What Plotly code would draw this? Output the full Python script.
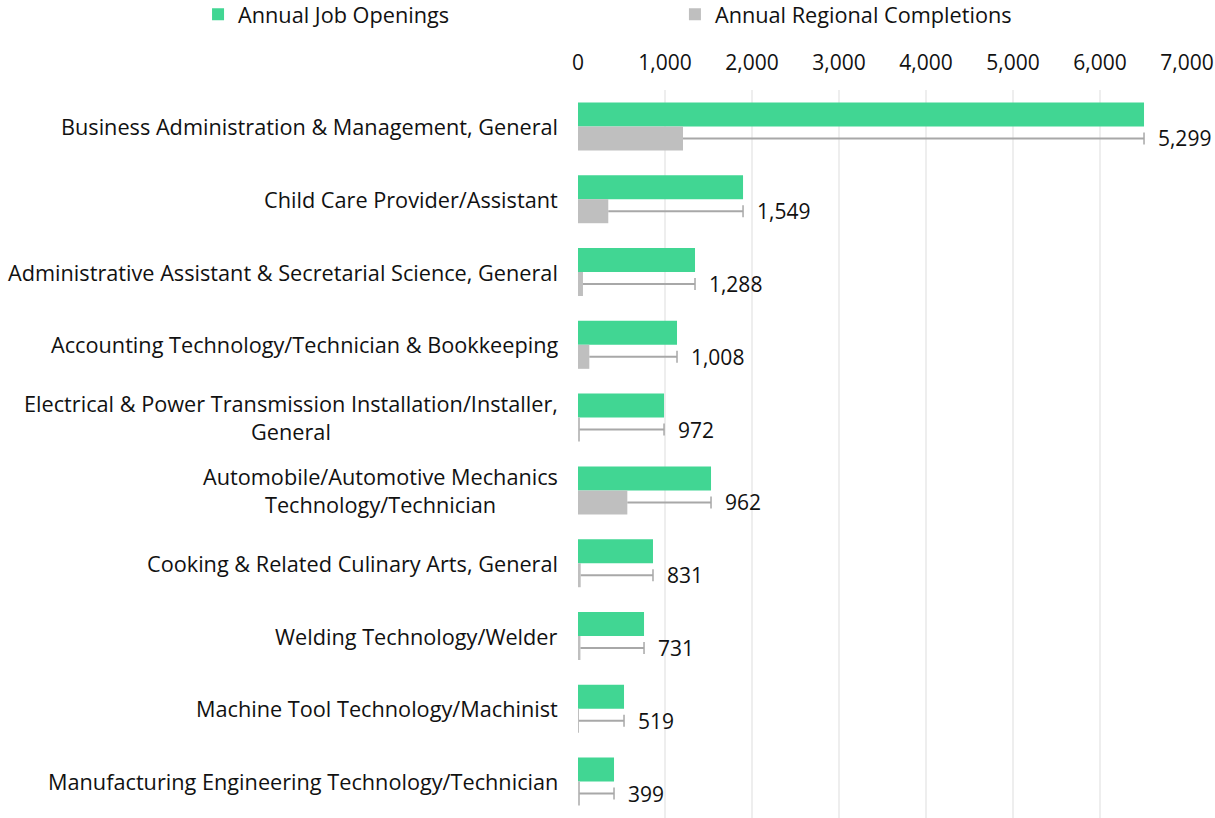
import plotly.graph_objects as go

# Programs ranked by the gap between annual job openings and regional completions
programs = [
    "Business Administration & Management, General",
    "Child Care Provider/Assistant",
    "Administrative Assistant & Secretarial Science, General",
    "Accounting Technology/Technician & Bookkeeping",
    "Electrical & Power Transmission Installation/Installer,<br>General",
    "Automobile/Automotive Mechanics<br>Technology/Technician",
    "Cooking & Related Culinary Arts, General",
    "Welding Technology/Welder",
    "Machine Tool Technology/Machinist",
    "Manufacturing Engineering Technology/Technician",
]
openings = [6506, 1897, 1345, 1138, 989, 1529, 862, 759, 529, 414]
completions = [1207, 348, 57, 130, 17, 567, 31, 28, 10, 15]
x_ticks = [0, 1000, 2000, 3000, 4000, 5000, 6000, 7000]

gap = [o - c for o, c in zip(openings, completions)]

GREEN = "#41D693"
GREY_BAR = "#BFBFBF"
GREY_LINE = "#A8A8A8"
INK = "#111111"
FONT = "Open Sans"
LABEL_SIZE = 21.7
NUM_SIZE = 21

fig = go.Figure()

fig.add_trace(go.Bar(
    name="Annual Job Openings",
    y=programs, x=openings, orientation="h",
    offsetgroup="openings",
    marker=dict(color=GREEN, line=dict(width=0)),
    legend="legend",
))

# Completions bar; its error bar runs out to the openings value
fig.add_trace(go.Bar(
    name="Annual Regional Completions",
    y=programs, x=completions, orientation="h",
    offsetgroup="completions",
    marker=dict(color=GREY_BAR, line=dict(width=0)),
    error_x=dict(type="data", symmetric=False, array=gap,
                 arrayminus=[0] * len(gap), width=0,
                 thickness=2, color=GREY_LINE),
    legend="legend2",
))

# Invisible gap segment: end cap and gap label at the openings value
fig.add_trace(go.Bar(
    name="Gap",
    y=programs, x=gap, base=completions, orientation="h",
    offsetgroup="completions",
    marker=dict(color="rgba(0,0,0,0)", line=dict(width=0)),
    error_x=dict(type="data", symmetric=False, array=[0] * len(gap),
                 arrayminus=[0] * len(gap), width=6,
                 thickness=1.5, color=GREY_LINE),
    text=["\u00a0\u00a0" + f"{g:,}" for g in gap],
    textposition="outside",
    constraintext="none",
    textfont=dict(family=FONT, size=NUM_SIZE, color=INK),
    cliponaxis=False,
    showlegend=False,
    hoverinfo="skip",
))

# Program names as centred, right-anchored labels beside the axis
for p in programs:
    fig.add_annotation(
        x=0, y=p, xref="x", yref="y",
        text=p, showarrow=False,
        xanchor="right", xshift=-18, align="center",
        font=dict(family=FONT, size=LABEL_SIZE, color=INK),
    )

legend_style = dict(
    orientation="h",
    xref="container", yref="container",
    y=0.982, xanchor="left", yanchor="middle",
    font=dict(family=FONT, size=LABEL_SIZE, color=INK),
    bgcolor="rgba(0,0,0,0)",
)

fig.update_layout(
    width=1215, height=818,
    margin=dict(l=578, r=28, t=90, b=0),
    paper_bgcolor="white", plot_bgcolor="white",
    barmode="group", bargap=0.34, bargroupgap=0,
    font=dict(family=FONT, size=LABEL_SIZE, color=INK),
    legend=dict(x=0.163, **legend_style),
    legend2=dict(x=0.5555, **legend_style),
    showlegend=True,
)

fig.update_xaxes(
    side="top", range=[0, 7000],
    tickvals=x_ticks, tickformat=",",
    showgrid=True, gridcolor="#EEEEEE", gridwidth=1.5,
    zeroline=False, showline=False,
    ticks="outside", ticklen=11, tickcolor="rgba(0,0,0,0)",
    tickfont=dict(family=FONT, size=NUM_SIZE, color=INK),
)
fig.update_yaxes(
    autorange="reversed", showticklabels=False,
    showgrid=False, zeroline=False, showline=False, ticks="",
)

fig.write_html("out.html")
